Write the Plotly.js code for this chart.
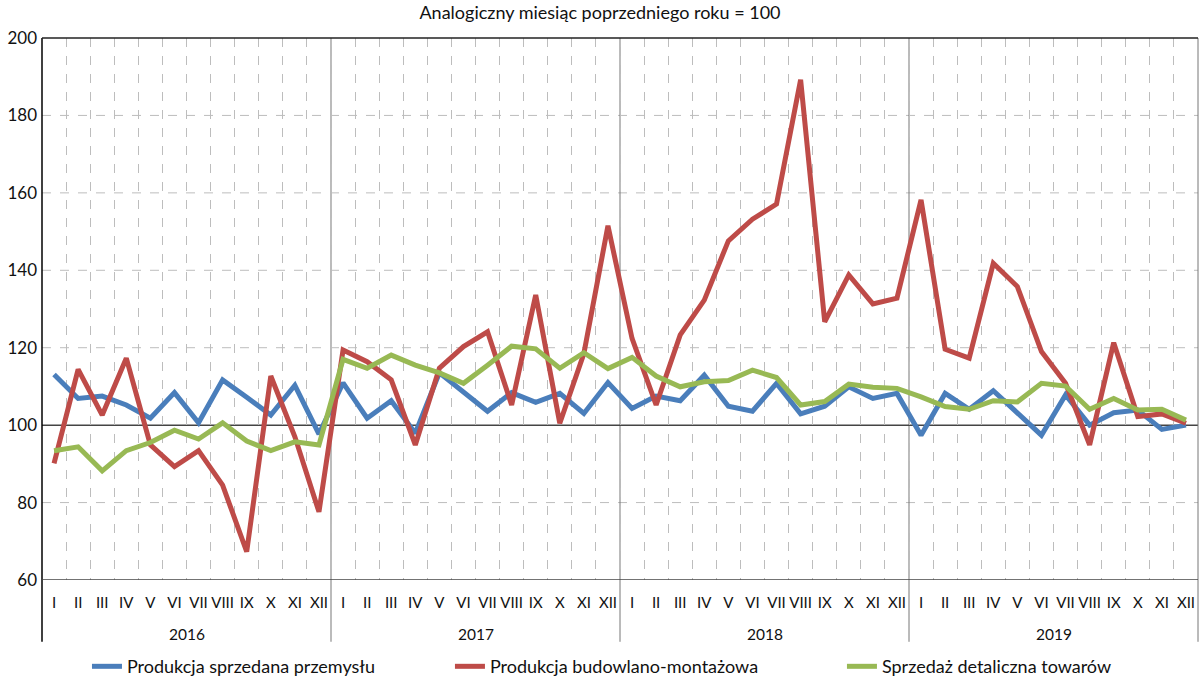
<!DOCTYPE html>
<html>
<head>
<meta charset="utf-8">
<script src="https://cdn.plot.ly/plotly-3.0.1.min.js"></script>
<style>html,body{margin:0;padding:0;background:#fff}#chart{width:1200px;height:683px}</style>
</head>
<body>
<div id="chart"></div>
<script>
const years = ["2016", "2017", "2018", "2019"];
const months = ["I","II","III","IV","V","VI","VII","VIII","IX","X","XI","XII"];

const seriesNames = ["Produkcja sprzedana przemysłu", "Produkcja budowlano-montażowa", "Sprzedaż detaliczna towarów"];

const przemysl = [
  113.1, 106.9, 107.5, 105.2, 101.8, 108.4, 100.6, 111.7, 107.2, 102.6, 110.3, 97.7,
  110.9, 101.8, 106.3, 97.9, 113.5, 108.7, 103.6, 108.4, 105.9, 108.2, 103.0, 111.0,
  104.3, 107.5, 106.3, 112.9, 104.9, 103.6, 110.8, 102.9, 104.9, 109.9, 106.9, 108.2,
  97.4, 108.2, 104.1, 108.9, 103.0, 97.4, 107.8, 100.0, 103.2, 103.9, 98.9, 100.0
];
const budowlana = [
  90.1, 114.4, 102.6, 117.3, 94.9, 89.3, 93.4, 84.5, 67.3, 112.7, 97.0, 77.6,
  119.4, 116.4, 111.7, 94.9, 114.7, 120.3, 124.1, 105.2, 133.6, 100.5, 118.5, 151.5,
  122.4, 105.2, 123.3, 132.3, 147.6, 153.2, 157.1, 189.2, 126.7, 138.8, 131.3, 132.8,
  158.2, 119.6, 117.3, 141.8, 135.8, 119.0, 110.8, 94.9, 121.3, 102.2, 102.9, 100.5
];
const detal = [
  93.4, 94.4, 88.2, 93.4, 95.5, 98.7, 96.4, 100.6, 95.9, 93.4, 95.7, 94.9,
  117.0, 114.7, 118.1, 115.5, 113.5, 110.8, 115.5, 120.4, 119.7, 114.7, 118.7, 114.6,
  117.5, 112.7, 109.9, 111.2, 111.5, 114.2, 112.3, 105.2, 106.1, 110.6, 109.8, 109.5,
  107.3, 104.8, 104.1, 106.3, 106.0, 110.8, 110.1, 104.1, 106.9, 103.9, 104.1, 101.3
];

const colors = ["#4a7ebb", "#be4b48", "#98b954"];
const fontFam = "Lato, 'Open Sans', sans-serif";

const n = years.length * months.length;
const xs = [...Array(n).keys()];
const tickText = [];
years.forEach(() => months.forEach(m => tickText.push(m)));

const allSeries = [przemysl, budowlana, detal];
const legendNames = ["legend", "legend2", "legend3"];
const traces = allSeries.map((s, i) => ({
  type: "scatter", mode: "lines", x: xs, y: s, name: seriesNames[i],
  line: {color: colors[i], width: 5},
  legend: legendNames[i], hoverinfo: "skip"
}));

const shapes = [];
// horizontal dashed gridlines (every 20, except the solid 60 and 100 lines)
for (let v = 80; v <= 180; v += 20) {
  if (v === 100) continue;
  shapes.push({type: "line", xref: "paper", yref: "y", x0: 0, x1: 1, y0: v, y1: v,
    line: {color: "#bdbdbd", width: 1, dash: "dash"}, layer: "below"});
}
// year separators
for (let k = 1; k < years.length; k++) {
  const xb = k * months.length - 0.5;
  shapes.push({type: "line", xref: "x", yref: "paper", x0: xb, x1: xb, y0: -0.114, y1: 1,
    line: {color: k === 1 ? "#bbbbbb" : "#777777", width: k === 1 ? 2 : 1}, layer: "below"});
}
// reference 100 line
shapes.push({type: "line", xref: "paper", yref: "y", x0: 0, x1: 1, y0: 100, y1: 100, line: {color: "#444", width: 1.5}, layer: "below"});
// left & right extensions below plot
shapes.push({type: "line", xref: "paper", yref: "paper", x0: 0, x1: 0, y0: -0.114, y1: 1, line: {color: "#000", width: 1.5}});
shapes.push({type: "line", xref: "paper", yref: "paper", x0: 1, x1: 1, y0: -0.114, y1: 1, line: {color: "#777", width: 1}});
// bottom line at 60
shapes.push({type: "line", xref: "paper", yref: "y", x0: 0, x1: 1, y0: 60, y1: 60, line: {color: "#444", width: 1.5}});
// top line
shapes.push({type: "line", xref: "paper", yref: "paper", x0: 0, x1: 1, y0: 1, y1: 1, line: {color: "#222", width: 1.5}});

const annotations = years.map((yr, k) => ({
  text: yr, xref: "x", yref: "paper", x: k * months.length + (months.length - 1) / 2, y: -0.1,
  showarrow: false, yanchor: "middle", font: {family: fontFam, size: 15.5, color: "#111"}
}));

const legendBase = {orientation: "h", yref: "container", y: 0.024, yanchor: "middle", xanchor: "left",
  font: {family: fontFam, size: 18, color: "#111"}, bgcolor: "rgba(0,0,0,0)", itemwidth: 30, tracegroupgap: 0};

const layout = {
  width: 1200, height: 683,
  margin: {l: 42, r: 2, t: 38, b: 103},
  paper_bgcolor: "#fff", plot_bgcolor: "#fff",
  title: {text: "Analogiczny miesiąc poprzedniego roku = 100", x: 0.5, xanchor: "center", y: 0.982, yanchor: "middle", yref: "container",
    font: {family: fontFam, size: 18, color: "#111"}},
  xaxis: {range: [-0.5, n - 0.5], tickmode: "array", tickvals: xs, ticktext: tickText,
    showgrid: false, zeroline: false, showline: false, ticks: "", ticklabelstandoff: 12,
    tickfont: {family: "'Liberation Sans Narrow', " + fontFam, size: 15, color: "#111"}, tickangle: 0,
    minor: {tick0: -0.5, dtick: 1, showgrid: true, gridcolor: "#bdbdbd", griddash: "dash", gridwidth: 1, ticks: ""}},
  yaxis: {range: [60, 200], dtick: 20, tick0: 60, showgrid: false,
    zeroline: false, showline: false, ticks: "", ticklabelstandoff: 4,
    tickfont: {family: fontFam, size: 17, color: "#111"}},
  shapes: shapes, annotations: annotations,
  legend: Object.assign({}, legendBase, {x: 0.0389}),
  legend2: Object.assign({}, legendBase, {x: 0.3529}),
  legend3: Object.assign({}, legendBase, {x: 0.692}),
  showlegend: true
};

Plotly.newPlot("chart", traces, layout, {displayModeBar: false, staticPlot: true});
</script>
</body>
</html>
